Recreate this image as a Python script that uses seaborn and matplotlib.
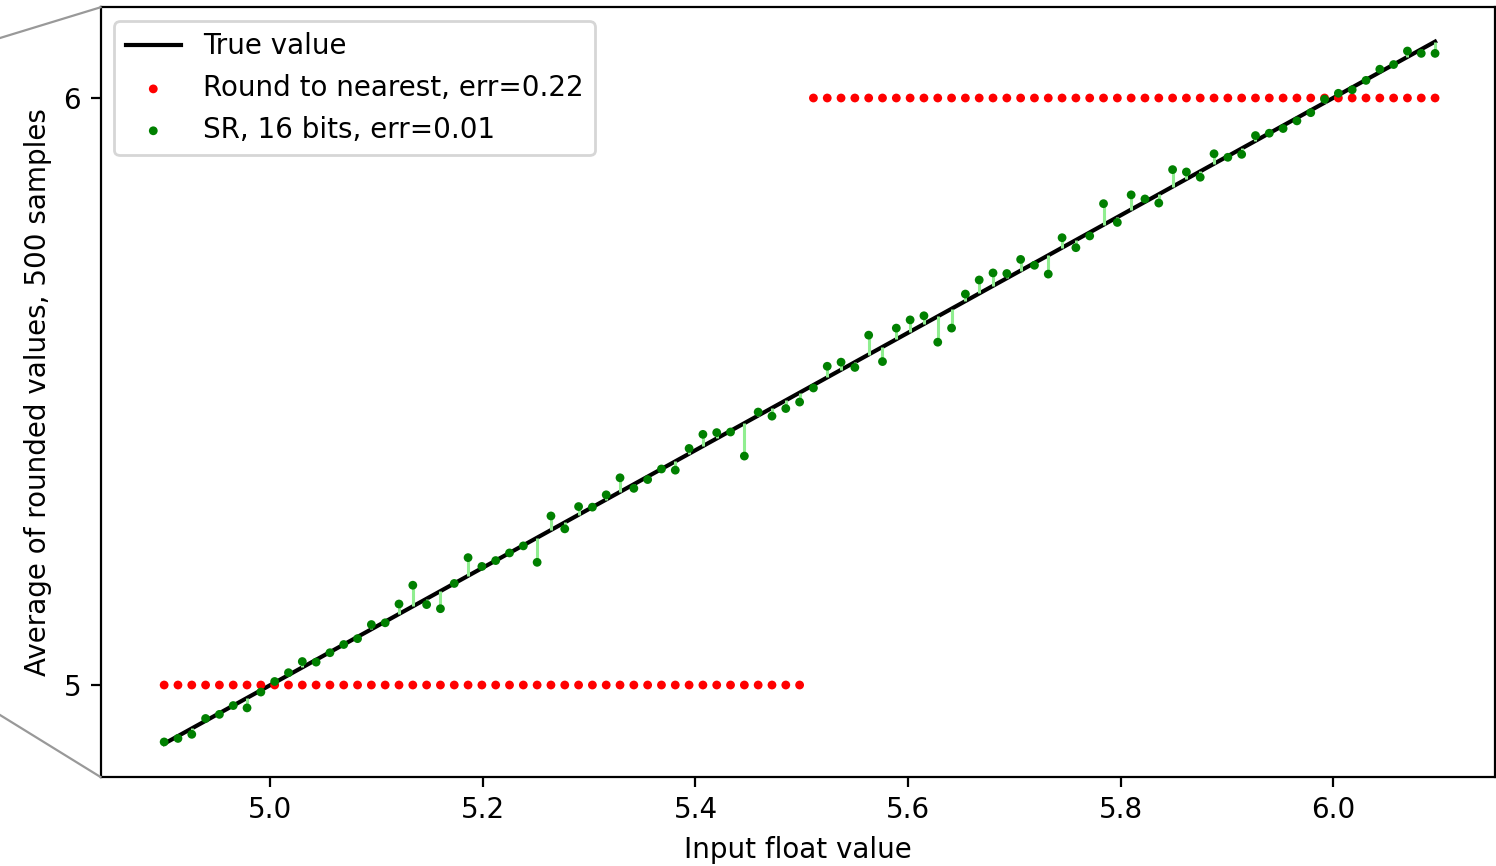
import numpy as np
import matplotlib
matplotlib.use("Agg")
import matplotlib.pyplot as plt
from matplotlib.lines import Line2D
import seaborn as sns

# input grid (x) and the values
x_inputs = [
    4.900, 4.913, 4.926, 4.939, 4.952, 4.965, 4.978, 4.991, 5.004, 5.017,
    5.030, 5.043, 5.056, 5.069, 5.082, 5.095, 5.108, 5.121, 5.134, 5.147,
    5.160, 5.173, 5.186, 5.199, 5.212, 5.225, 5.238, 5.251, 5.264, 5.277,
    5.290, 5.303, 5.316, 5.329, 5.342, 5.355, 5.368, 5.381, 5.394, 5.407,
    5.420, 5.433, 5.446, 5.459, 5.472, 5.485, 5.498, 5.511, 5.524, 5.537,
    5.550, 5.563, 5.576, 5.589, 5.602, 5.615, 5.628, 5.641, 5.654, 5.667,
    5.680, 5.693, 5.706, 5.719, 5.732, 5.745, 5.758, 5.771, 5.784, 5.797,
    5.810, 5.823, 5.836, 5.849, 5.862, 5.875, 5.888, 5.901, 5.914, 5.927,
    5.940, 5.953, 5.966, 5.979, 5.992, 6.005, 6.018, 6.031, 6.044, 6.057,
    6.070, 6.083, 6.096,
]
true_values = list(x_inputs)
nearest_values = [5.0] * 47 + [6.0] * 46
sr_values = [
    4.903, 4.909, 4.916, 4.943, 4.950, 4.965, 4.961, 4.988, 5.006, 5.021,
    5.040, 5.039, 5.055, 5.069, 5.079, 5.103, 5.106, 5.138, 5.170, 5.137,
    5.130, 5.173, 5.217, 5.202, 5.212, 5.225, 5.237, 5.209, 5.288, 5.266,
    5.304, 5.303, 5.324, 5.353, 5.335, 5.350, 5.368, 5.366, 5.403, 5.427,
    5.430, 5.431, 5.390, 5.465, 5.458, 5.471, 5.482, 5.506, 5.543, 5.550,
    5.541, 5.596, 5.551, 5.608, 5.622, 5.629, 5.584, 5.608, 5.666, 5.690,
    5.702, 5.701, 5.725, 5.715, 5.700, 5.762, 5.745, 5.765, 5.820, 5.788,
    5.835, 5.828, 5.821, 5.878, 5.874, 5.865, 5.905, 5.899, 5.904, 5.936,
    5.940, 5.948, 5.961, 5.975, 5.998, 6.008, 6.014, 6.030, 6.049, 6.057,
    6.080, 6.076, 6.076,
]

labels = ["True value", "Round to nearest, err=0.22", "SR, 16 bits, err=0.01"]

dpi = 200
fig = plt.figure(figsize=(1496 / dpi, 866 / dpi), dpi=dpi)
ax = fig.add_axes([100.5 / 1496, 89 / 866, 1394.5 / 1496, 769.7 / 866])

sns.lineplot(x=x_inputs, y=true_values, color="black", lw=1.5,
             label=labels[0], ax=ax, zorder=2)
sns.scatterplot(x=x_inputs, y=nearest_values, color="red", s=10, marker="o",
                edgecolor="none", label=labels[1], ax=ax, zorder=4)
# error stems from true value to SR average
ax.vlines(x_inputs, true_values, sr_values, colors="lightgreen", lw=1.1, zorder=3)
sns.scatterplot(x=x_inputs, y=sr_values, color="green", s=10, marker="o",
                edgecolor="none", label=labels[2], ax=ax, zorder=5)

ax.set_xlim(4.8401, 6.1524)
ax.set_ylim(4.8433, 6.1545)
ax.set_xticks([5.0, 5.2, 5.4, 5.6, 5.8, 6.0])
ax.set_yticks([5, 6])
ax.set_xlabel("Input float value")
ax.set_ylabel("Average of rounded values, 500 samples")
ax.legend(loc="upper left")

# zoom connector lines going out to the left
for y0, y1 in [(1 - 38 / 866, 1 - 7.3 / 866), (1 - 715 / 866, 89 / 866)]:
    fig.add_artist(Line2D([0, 100.5 / 1496], [y0, y1], transform=fig.transFigure,
                          color="0.6", lw=0.8))

fig.savefig("out.png", dpi=dpi)
